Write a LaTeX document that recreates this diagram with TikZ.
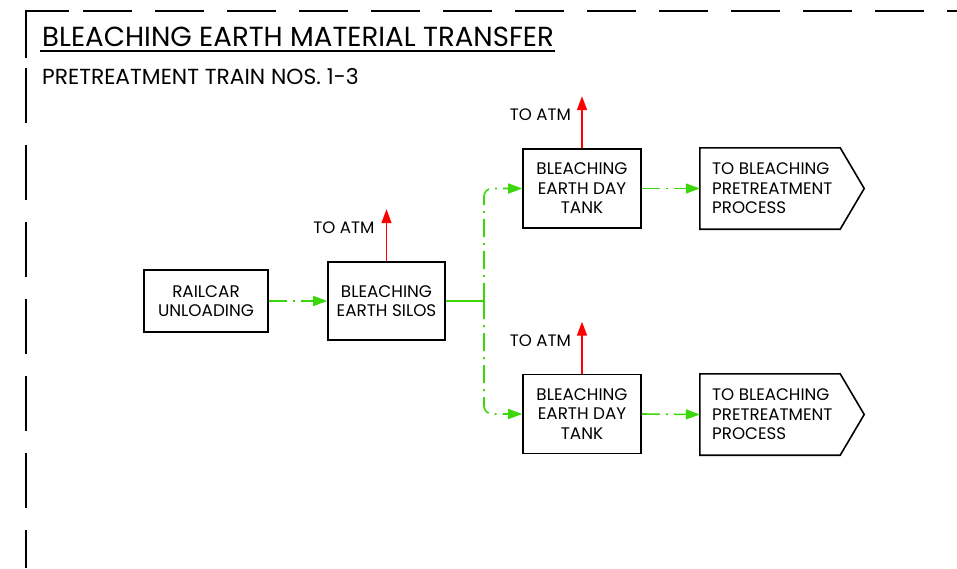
\documentclass[tikz,border=0pt]{standalone}
\usepackage{fontspec}
\setmainfont{Poppins}
\usetikzlibrary{arrows.meta,calc}
\definecolor{flowgreen}{RGB}{60,215,10}
\definecolor{ventred}{RGB}{255,0,0}
\tikzset{
  border/.style={line width=1.8pt,black},
  proc/.style={draw=black,line width=1.6pt,align=center,inner sep=0pt,font=\fontsize{16.8}{19.5}\selectfont},
  lbl/.style={font=\fontsize{16.6}{19.5}\selectfont,inner sep=0pt},
  outtext/.style={align=left,inner sep=0pt,font=\fontsize{16.7}{19.5}\selectfont},
  dashdot/.style={draw=flowgreen,line width=1.6pt,dash pattern=on 18pt off 6pt on 2pt off 6pt},
  greenarrow/.style={-{Triangle[length=14pt,width=10pt]}},
  vent/.style={draw=ventred,line width=1.6pt,-{Triangle[length=14pt,width=10pt]}},
}
\begin{document}
\begin{tikzpicture}[x=1pt,y=-1pt]
\useasboundingbox (0,0) rectangle (957,568);
% frame
\draw[border] (26,58) -- (26,11) -- (69,11);
\draw[border,dash pattern=on 49pt off 23pt] (83,11) -- (957,11);
\draw[border,dash pattern=on 55pt off 22pt] (26,68) -- (26,568);
% titles
\node[anchor=base west,inner sep=0pt,font=\fontsize{27.6}{30}\selectfont] (title) at (42,46) {BLEACHING EARTH MATERIAL TRANSFER};
\draw[line width=1.8pt] (40,51) -- (555,51);
\node[anchor=base west,inner sep=0pt,font=\fontsize{21.8}{22}\selectfont] (sub) at (42,84) {PRETREATMENT TRAIN NOS. 1-3};
% boxes
\node[proc,minimum width=124pt,minimum height=62pt] (rail) at (206,301) {RAILCAR\\UNLOADING};
\node[proc,minimum width=117pt,minimum height=78pt] (silos) at (386.5,301) {BLEACHING\\EARTH SILOS};
\node[proc,minimum width=118pt,minimum height=79pt] (dt1) at (582,188.5) {BLEACHING\\EARTH DAY\\TANK};
\node[proc,minimum width=118pt,minimum height=79pt] (dt2) at (582,414) {BLEACHING\\EARTH DAY\\TANK};
% outgoing pentagons
\node[minimum width=140pt,minimum height=81pt,inner sep=0pt] (out1) at (770,188.5) {};
\node[outtext,anchor=west] (out1t) at (712,188.5) {TO BLEACHING\\PRETREATMENT\\PROCESS};
\draw[line width=1.6pt,line join=miter] (out1.north west) -- (out1.north east) -- ($(out1.east)+(24,0)$) -- (out1.south east) -- (out1.south west) -- cycle;
\node[minimum width=140pt,minimum height=81pt,inner sep=0pt] (out2) at (770,414.5) {};
\node[outtext,anchor=west] (out2t) at (712,414.5) {TO BLEACHING\\PRETREATMENT\\PROCESS};
\draw[line width=1.6pt,line join=miter] (out2.north west) -- (out2.north east) -- ($(out2.east)+(24,0)$) -- (out2.south east) -- (out2.south west) -- cycle;
% vents
\coordinate (v0) at ($(silos.north)+(0,-52)$);
\coordinate (v1) at ($(dt1.north)+(0,-52)$);
\coordinate (v2) at ($(dt2.north)+(0,-52)$);
\draw[vent] (silos.north) -- (v0);
\draw[vent] (dt1.north) -- (v1);
\draw[vent] (dt2.north) -- (v2);
\node[lbl,anchor=east] (atm0) at ($(v0)+(-12,19)$) {TO ATM};
\node[lbl,anchor=east] (atm1) at ($(v1)+(-11,19)$) {TO ATM};
\node[lbl,anchor=east] (atm2) at ($(v2)+(-11,19)$) {TO ATM};
% green flows
\draw[dashdot,greenarrow] (rail.east) -- (silos.west);
\coordinate (jn) at (484,301);
\draw[draw=flowgreen,line width=1.6pt] (silos.east) -- (jn);
\draw[dashdot,greenarrow,rounded corners=8pt] (jn) |- (dt1.west);
\draw[dashdot,greenarrow,rounded corners=8pt] (jn) |- (dt2.west);
\draw[dashdot,greenarrow] (dt1.east) -- (out1.west);
\draw[dashdot,greenarrow] (dt2.east) -- (out2.west);
\end{tikzpicture}
\end{document}
